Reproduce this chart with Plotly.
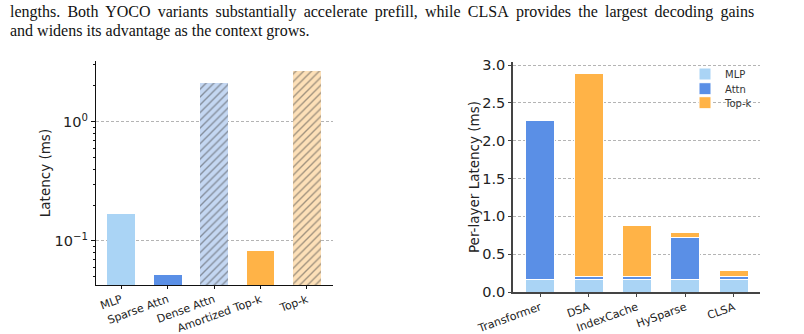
import plotly.graph_objects as go

# ---- data ----
left_cats = ["MLP", "Sparse Attn", "Dense Attn", "Amortized Top-k", "Top-k"]
left_vals = [0.168, 0.052, 2.11, 0.082, 2.66]

right_cats = ["Transformer", "DSA", "IndexCache", "HySparse", "CLSA"]
mlp_vals = [0.165, 0.165, 0.165, 0.165, 0.165]
attn_vals = [2.10, 0.04, 0.04, 0.55, 0.04]
topk_vals = [0.0, 2.68, 0.67, 0.065, 0.085]

C_MLP = "#aad4f5"
C_ATTN = "#5a8fe6"
C_TOPK = "#ffb347"

fig = go.Figure()

# left panel
fills = [C_MLP, C_ATTN, "#c4d7f2", C_TOPK, "#fde0b8"]
shapes = ["", "", "/", "", "/"]
fig.add_trace(go.Bar(
    x=left_cats, y=left_vals, width=0.6,
    marker=dict(color=fills, line=dict(width=0),
                pattern=dict(shape=shapes, fgcolor="#858a94",
                             size=5.5, solidity=0.25, fillmode="overlay")),
    xaxis="x", yaxis="y", showlegend=False))

# right panel
for name, vals, col, lg in [("MLP", mlp_vals, C_MLP, "legend"),
                            ("Attn", attn_vals, C_ATTN, "legend2"),
                            ("Top-k", topk_vals, C_TOPK, "legend3")]:
    fig.add_trace(go.Bar(
        x=right_cats, y=vals, name=name, width=0.6, legend=lg,
        marker=dict(color=col, line=dict(color="white", width=1)),
        xaxis="x2", yaxis="y2"))

font_fam = "DejaVu Sans"
grid_kw = dict(showgrid=True, gridcolor="#b4b4b4", griddash="3px,2px", gridwidth=0.8)


def leg(yc):
    return dict(x=0.852, y=1 - yc / 334, xanchor="left", yanchor="middle",
                bgcolor="rgba(0,0,0,0)", font=dict(size=10, color="#333"),
                itemwidth=30)


fig.update_layout(
    width=804, height=334, margin=dict(l=0, r=0, t=0, b=0, autoexpand=False),
    paper_bgcolor="white", plot_bgcolor="white",
    barmode="stack", bargap=0.4,
    font=dict(family=font_fam, color="#222"),
    showlegend=True,
    legend=leg(74), legend2=leg(88.7), legend3=leg(102.7),
    xaxis=dict(domain=[96/804, 333/804], range=[-0.54, 4.56], anchor="y", automargin=False,
               showline=True, linecolor="#111", linewidth=1.2,
               ticks="outside", ticklen=3, tickcolor="#111",
               tickangle=-20, tickfont=dict(size=11, color="#222"), showgrid=False),
    yaxis=dict(domain=[1-285/334, 1-61/334], type="log", range=[-1.369, 0.509], anchor="x", automargin=False,
               showline=True, linecolor="#111", linewidth=1.2,
               ticks="outside", ticklen=4, tickcolor="#111",
               tickvals=[0.1, 1], ticktext=["10<sup>\u22121</sup>", "10<sup>0</sup>"],
               tickfont=dict(size=14.5, color="#222"),
               minor=dict(ticks="outside", ticklen=2, tickcolor="#111", showgrid=False,
                          tickvals=[0.05, 0.06, 0.07, 0.08, 0.09, 0.2, 0.3, 0.4, 0.5, 0.6, 0.7, 0.8, 0.9, 2, 3]),
               title=dict(text="Latency (ms)", font=dict(size=13.5, color="#222"), standoff=0),
               zeroline=False, **grid_kw),
    xaxis2=dict(domain=[513/804, 760/804], range=[-0.56, 4.54], anchor="y2", automargin=False,
                showline=True, linecolor="#444", linewidth=1.5,
                ticks="outside", ticklen=3, tickcolor="#444",
                tickangle=-20, tickfont=dict(size=11, color="#222"), showgrid=False),
    yaxis2=dict(domain=[1-292/334, 1-62/334], range=[0, 3.04], anchor="x2", automargin=False,
                showline=True, linecolor="#444", linewidth=1.5,
                ticks="outside", ticklen=3, tickcolor="#444",
                dtick=0.5, tickformat=".1f", tickfont=dict(size=14.5, color="#222"),
                title=dict(text="Per-layer Latency (ms)", font=dict(size=13.5, color="#222"), standoff=0),
                zeroline=False, **grid_kw),
)

# top text (caption excerpt)
T = "\u2009 "
line1 = T.join("lengths. Both YOCO variants substantially accelerate prefill, while CLSA provides the largest decoding gains".split(" "))
fig.add_annotation(text=line1,
                   x=8/804, y=1-12/334, xref="paper", yref="paper", xanchor="left", yanchor="middle",
                   showarrow=False, font=dict(family="Liberation Serif", size=16, color="#111"))
fig.add_annotation(text="and widens its advantage as the context grows.",
                   x=8/804, y=1-31/334, xref="paper", yref="paper", xanchor="left", yanchor="middle",
                   showarrow=False, font=dict(family="Liberation Serif", size=16, color="#111"))

fig.write_html("out.html")
